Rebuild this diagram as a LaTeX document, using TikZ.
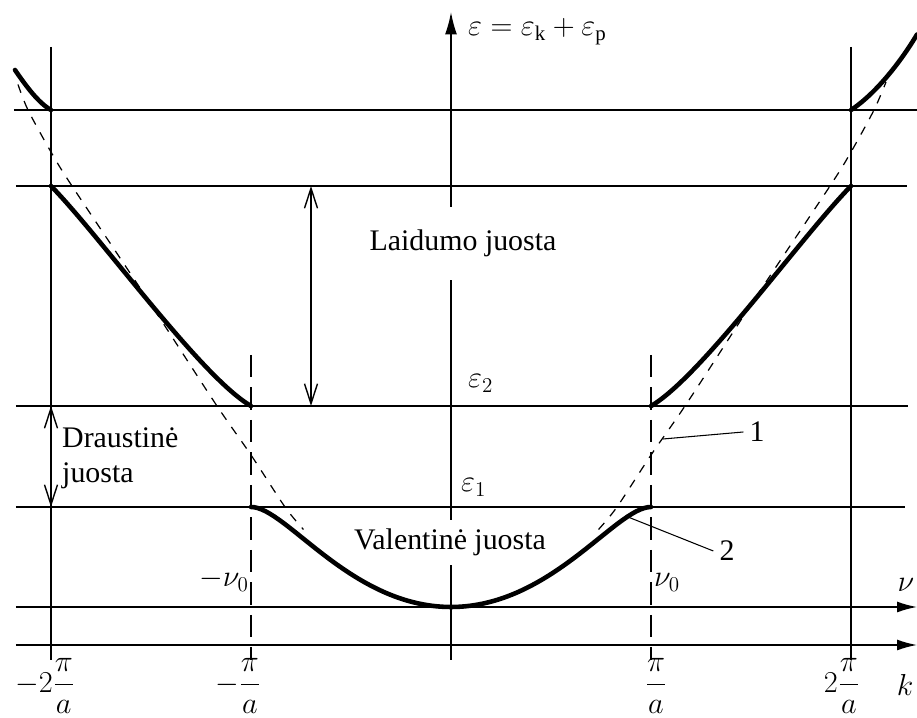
\documentclass[tikz,border=0pt]{standalone}
\usepackage{amsmath}
\usepackage{fontspec}
\setmainfont{Liberation Serif}
\usetikzlibrary{arrows.meta}

\begin{document}
\begin{tikzpicture}[
  font=\fontsize{17}{20}\selectfont,
  level/.style={line width=0.9pt},
  band/.style={line width=2.6pt, line cap=round},
  free/.style={line width=0.7pt, dash pattern=on 5pt off 5pt},
  zone/.style={line width=0.9pt, dash pattern=on 0.45cm off 0.2cm},
  gap/.style={{Straight Barb[length=4mm,width=2.6mm]}-{Straight Barb[length=4mm,width=2.6mm]}, line width=0.8pt},
  axis/.style={line width=0.9pt, -{Latex[length=4mm,width=2.2mm]}},
  lead/.style={line width=0.6pt},
  lbl/.style={fill=white, inner sep=1pt}
]
\useasboundingbox (-9.02,-2.22) rectangle (9.32,12.14);

\draw[level] (-8.74,9.94) -- (9.32,9.94);
\draw[level] (-8.7,8.42) -- (9.12,8.42);
\draw[level] (-8.7,4.02) -- (9.14,4.02);
\draw[level] (-8.7,2) -- (9.08,2);
\draw[axis] (-8.7,0) -- (9.32,0);
\draw[axis] (-8.7,-0.76) -- (9.32,-0.76);

\draw[level] (-8,11.2) -- (-8,-1.06);
\draw[level] (8,11.2) -- (8,-1.06);
\draw[zone] (-4,5.04) -- (-4,-1.06);
\draw[zone] (4,5.04) -- (4,-1.06);
\draw[axis, -{Latex[length=4.5mm,width=2.4mm]}] (0,-1.06) -- (0,11.9);

\node[lbl, minimum height=1.46cm] (cond) at (0.24,7.27) {Laidumo juosta};
\node[lbl, minimum height=0.9cm] (val) at (-0.02,1.29) {Valentinė juosta};
\node[align=left, anchor=west] (forb) at (-7.9,2.98) {Draustinė\\juosta};

\node[anchor=base west] (eall) at (0.22,11.42) {$\varepsilon=\varepsilon_{\mathrm{k}}+\varepsilon_{\mathrm{p}}$};
\node[anchor=base west] (etwo) at (0.22,4.38) {$\varepsilon_2$};
\node[anchor=base west] (eone) at (0.08,2.3) {$\varepsilon_1$};
\node[anchor=base east] (nuneg) at (-3.92,0.4) {$-\nu_0$};
\node[anchor=base west] (nupos) at (3.94,0.4) {$\nu_0$};
\node (nu) at (9.1,0.45) {$\nu$};
\node (kk) at (9.08,-1.56) {$k$};

\node (mtwo) at (-8.12,-1.58) {$-2\dfrac{\pi}{a}$};
\node (mone) at (-4.26,-1.58) {$-\dfrac{\pi}{a}$};
\node (pone) at (4.1,-1.58) {$\dfrac{\pi}{a}$};
\node (ptwo) at (7.82,-1.58) {$2\dfrac{\pi}{a}$};

\draw[free] plot[smooth] coordinates {(-8.66,10.45) (-8.46,9.94) (-8,9.1) (-7.58,8.42) (-6.1,6.2) (-4.72,4.08) (-4,3.04) (-3.32,2) (-2.95,1.55)};
\draw[free] plot[smooth] coordinates {(2.95,1.55) (3.32,2) (4,3.04) (4.72,4.08) (6.1,6.2) (7.58,8.42) (8,9.1) (8.46,9.94) (8.7,10.5)};

\draw[band] (-8.72,10.74) .. controls (-8.5,10.42) and (-8.25,10.08) .. (-8,9.94);
\draw[band] (8,9.94) .. controls (8.4,10.2) and (8.9,10.75) .. (9.32,11.45);
\draw[band] (-8,8.42) .. controls (-7,7.4) and (-5,4.6) .. (-4,4.02);
\draw[band] (4,4.02) .. controls (5,4.6) and (7,7.4) .. (8,8.42);
\draw[band] (-4,2) .. controls (-3.3,2) and (-2,0) .. (0,0) .. controls (2,0) and (3.3,2) .. (4,2);

\draw[gap] (-8,4.02) -- (-8,2);
\draw[gap] (-2.8,8.42) -- (-2.8,4.02);

\node (one) at (6.12,3.5) {1};
\node (two) at (5.52,1.12) {2};
\coordinate (onept) at (4.24,3.36);
\coordinate (twopt) at (3.54,1.8);
\draw[lead] (one.west) -- (onept);
\draw[lead] (two.west) -- (twopt);
\end{tikzpicture}
\end{document}
